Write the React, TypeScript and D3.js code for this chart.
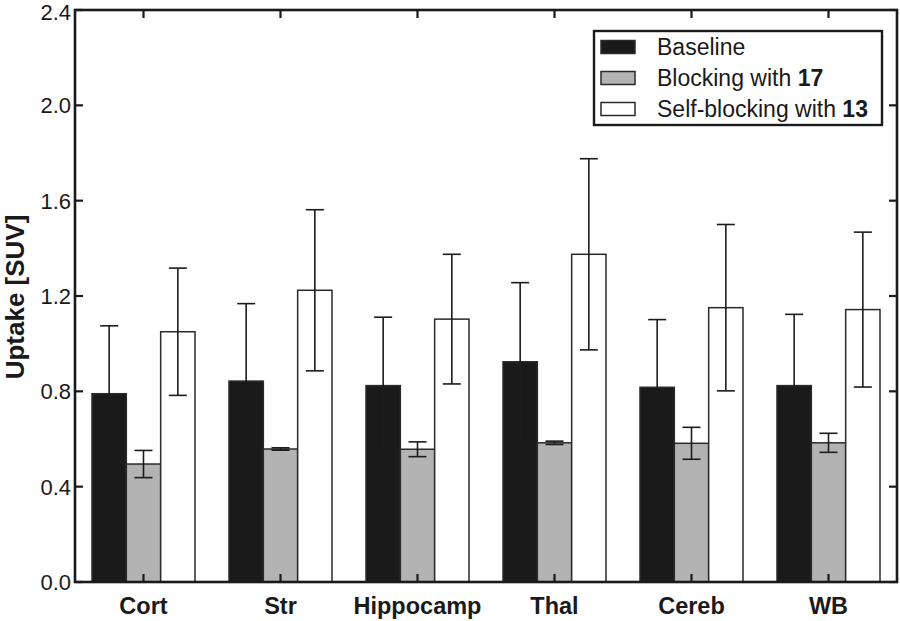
import React from "react";
import * as d3 from "d3";

const categories = ["Cort", "Str", "Hippocamp", "Thal", "Cereb", "WB"];
const seriesNames = ["Baseline", "Blocking with ", "Self-blocking with "];
const seriesBold = ["", "17", "13"];
const baselineMean = [0.79, 0.843, 0.824, 0.924, 0.817, 0.824];
const baselineErr = [0.285, 0.325, 0.287, 0.332, 0.284, 0.299];
const blockingMean = [0.495, 0.558, 0.557, 0.584, 0.582, 0.584];
const blockingErr = [0.057, 0.005, 0.031, 0.007, 0.067, 0.04];
const selfMean = [1.05, 1.224, 1.103, 1.375, 1.151, 1.143];
const selfErr = [0.267, 0.338, 0.272, 0.401, 0.349, 0.325];
const yTicks = [0, 0.4, 0.8, 1.2, 1.6, 2.0, 2.4];

const fills = ["#1a1a1a", "#b3b3b3", "#ffffff"];

export default function App() {
  const W = 900, H = 621;
  const left = 75, right = 897, top = 10, bottom = 582;
  const x = d3.scaleBand().domain(categories).range([left, right]).paddingInner(0).paddingOuter(0);
  const y = d3.scaleLinear().domain([0, 2.4]).range([bottom, top]);
  const groupW = 103;
  const sub = d3.scaleBand().domain(["0", "1", "2"]).range([0, groupW]);
  const means = [baselineMean, blockingMean, selfMean];
  const errs = [baselineErr, blockingErr, selfErr];
  const font = "'Liberation Sans', Arial, sans-serif";
  const tickLen = 8;
  const capW = 18;

  return (
    <svg width={W} height={H} style={{ position: "absolute", left: 0, top: 0, background: "#fff" }} fontFamily={font}>
      <rect x={0} y={0} width={W} height={H} fill="#fff" />
      {categories.map((c, i) => {
        const gx = (x(c) as number) + (x.bandwidth() - groupW) / 2;
        return (
          <g key={c}>
            {means.map((m, s) => {
              const bx = gx + (sub(String(s)) as number);
              const bw = sub.bandwidth();
              return (
                <rect key={s} x={bx} y={y(m[i])} width={bw} height={bottom - y(m[i])}
                  fill={fills[s]} stroke="#2a2a2a" strokeWidth={1.5} />
              );
            })}
          </g>
        );
      })}
      {categories.map((c, i) => {
        const gx = (x(c) as number) + (x.bandwidth() - groupW) / 2;
        return (
          <g key={c + "e"}>
            {means.map((m, s) => {
              const cx = gx + (sub(String(s)) as number) + sub.bandwidth() / 2;
              const hi = y(m[i] + errs[s][i]);
              const lo = y(m[i] - errs[s][i]);
              return (
                <g key={s} stroke="#1c1c1c" strokeWidth={1.6}>
                  <line x1={cx} x2={cx} y1={hi} y2={lo} />
                  <line x1={cx - capW / 2} x2={cx + capW / 2} y1={hi} y2={hi} />
                  <line x1={cx - capW / 2} x2={cx + capW / 2} y1={lo} y2={lo} />
                </g>
              );
            })}
          </g>
        );
      })}
      {/* category ticks bottom (inward) and top (inward) */}
      {categories.map((c) => {
        const cx = (x(c) as number) + x.bandwidth() / 2;
        return (
          <g key={c + "t"} stroke="#1a1a1a" strokeWidth={2.2}>
            <line x1={cx} x2={cx} y1={bottom} y2={bottom - tickLen} />
            <line x1={cx} x2={cx} y1={top} y2={top + tickLen} />
          </g>
        );
      })}
      {/* y ticks (inward on both sides) */}
      {yTicks.map((t) => (
        <g key={t}>
          <line x1={left} x2={left + tickLen} y1={y(t)} y2={y(t)} stroke="#1a1a1a" strokeWidth={2.2} />
          <line x1={right - tickLen} x2={right} y1={y(t)} y2={y(t)} stroke="#1a1a1a" strokeWidth={2.2} />
          <text x={left - 4} y={Math.max(y(t), 12)} dy="0.36em" textAnchor="end" fontSize={22} fill="#1a1a1a">
            {d3.format(".1f")(t)}
          </text>
        </g>
      ))}
      {/* frame */}
      <rect x={left} y={top} width={right - left} height={bottom - top} fill="none" stroke="#1a1a1a" strokeWidth={2.6} />
      {/* category labels */}
      {categories.map((c) => (
        <text key={c + "l"} x={(x(c) as number) + x.bandwidth() / 2} y={614} textAnchor="middle"
          fontSize={23.5} fontWeight="bold" fill="#1a1a1a">{c}</text>
      ))}
      {/* y label */}
      <text transform={`translate(24, 297) rotate(-90)`} textAnchor="middle"
        fontSize={26} fontWeight="bold" fill="#1a1a1a">Uptake [SUV]</text>
      {/* legend */}
      <rect x={594} y={31} width={288} height={94} fill="#fff" stroke="#1a1a1a" strokeWidth={2.4} />
      {seriesNames.map((n, s) => {
        const cy = 47 + s * 31;
        return (
          <g key={n + s}>
            <rect x={601} y={cy - 6.5} width={34} height={13} fill={fills[s]} stroke="#2a2a2a" strokeWidth={1.5} />
            <text x={657} y={cy} dy="0.36em" fontSize={23} fill="#1a1a1a">
              {n}<tspan fontWeight="bold">{seriesBold[s]}</tspan>
            </text>
          </g>
        );
      })}
    </svg>
  );
}
